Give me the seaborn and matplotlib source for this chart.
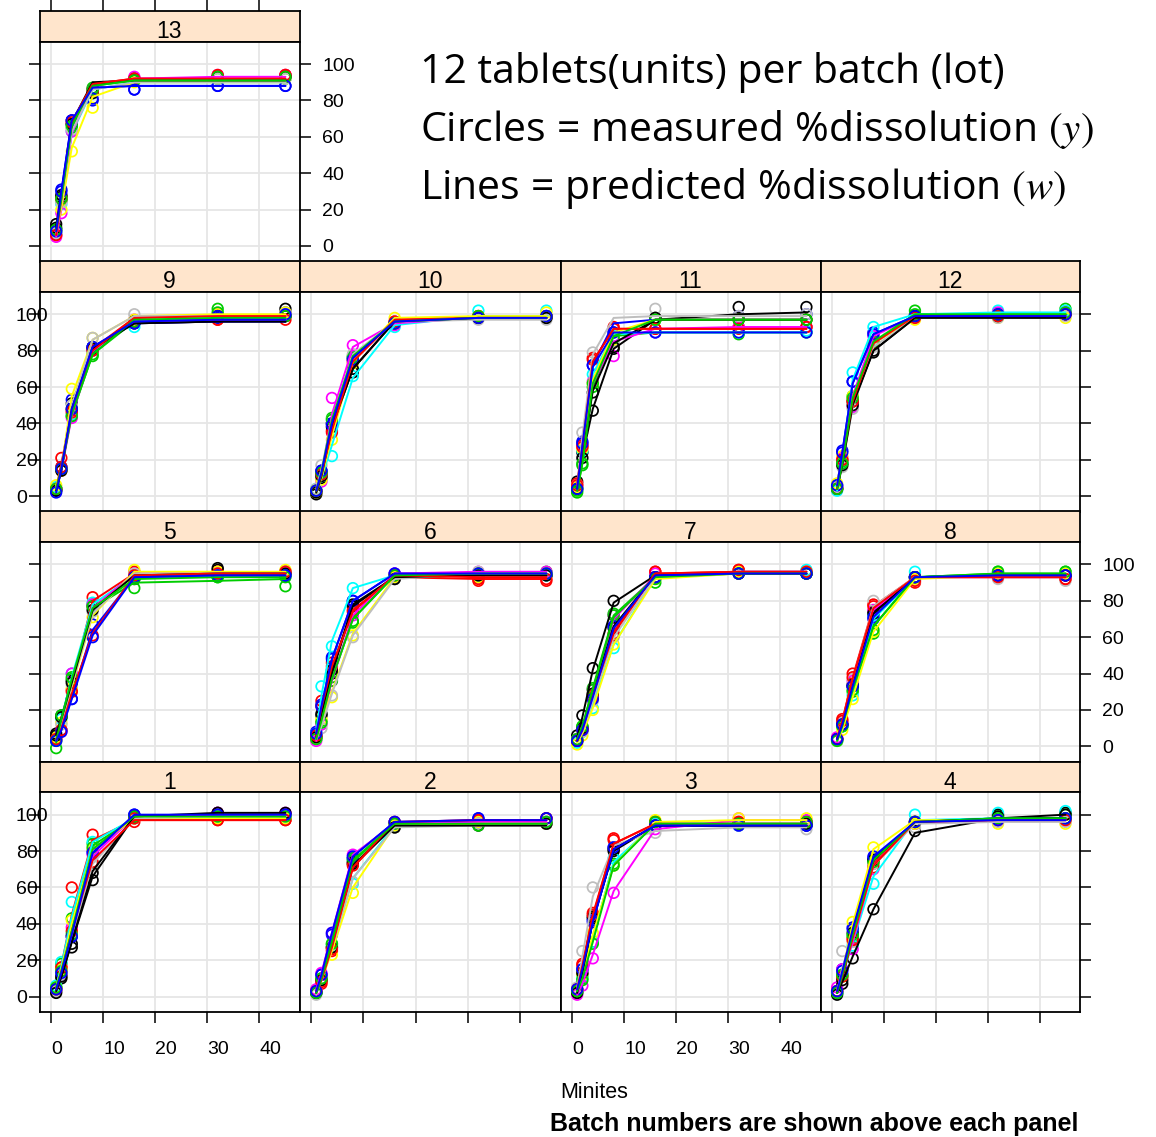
import matplotlib
matplotlib.use("Agg")
import matplotlib.pyplot as plt
import pandas as pd
import seaborn as sns

sns.set_style("white")
plt.rcParams["font.family"] = ["Liberation Sans", "DejaVu Sans"]
plt.rcParams["mathtext.fontset"] = "stix"
plt.rcParams["text.color"] = "black"
plt.rcParams["axes.labelcolor"] = "black"
plt.rcParams["xtick.color"] = "black"
plt.rcParams["ytick.color"] = "black"

# Sampling times (minutes)
minutes = [1, 2, 4, 8, 16, 32, 45]

# 12 tablets per batch; colours recycle the classic 8-colour palette
unit_ids = list(range(1, 13))
unit_palette = {1: "#000000", 2: "#FF0000", 3: "#00CD00", 4: "#0000FF",
                5: "#00FFFF", 6: "#FF00FF", 7: "#FFFF00", 8: "#BEBEBE",
                9: "#000000", 10: "#FF0000", 11: "#00CD00", 12: "#0000FF"}

# Measured % dissolution (y), one row per tablet, one column per time
measured_b1 = [[3, 10, 27, 64, 98, 101, 100], [5, 16, 60, 89, 96, 97, 97], [5, 18, 43, 84, 98, 98, 98],
               [4, 12, 33, 80, 100, 100, 100], [6, 19, 52, 85, 99, 99, 99], [4, 14, 38, 78, 99, 101, 101],
               [5, 15, 42, 81, 98, 98, 98], [3, 12, 35, 72, 98, 100, 99], [2, 11, 29, 68, 99, 101, 101],
               [4, 16, 36, 74, 98, 97, 97], [5, 14, 34, 82, 99, 99, 99], [4, 13, 33, 79, 100, 100, 100]]
measured_b2 = [[2, 9, 27, 74, 93, 95, 95], [3, 7, 25, 73, 95, 97, 98], [2, 10, 29, 75, 95, 95, 96],
               [3, 12, 34, 76, 96, 98, 98], [2, 9, 28, 62, 94, 96, 96], [4, 13, 35, 78, 95, 96, 96],
               [3, 9, 23, 57, 94, 96, 95], [1, 10, 28, 63, 93, 95, 95], [2, 9, 27, 73, 93, 94, 95],
               [3, 8, 26, 72, 96, 97, 98], [2, 10, 29, 76, 95, 94, 96], [3, 12, 35, 77, 96, 98, 98]]
measured_b3 = [[3, 12, 43, 80, 95, 95, 94], [4, 18, 46, 87, 96, 96, 96], [2, 10, 30, 73, 95, 95, 95],
               [4, 15, 42, 82, 94, 94, 94], [3, 11, 30, 76, 95, 94, 95], [1, 6, 21, 57, 92, 98, 97],
               [3, 12, 35, 72, 97, 98, 98], [5, 25, 60, 82, 90, 94, 92], [2, 13, 44, 81, 94, 95, 95],
               [4, 17, 45, 86, 96, 96, 96], [3, 9, 29, 72, 96, 95, 96], [4, 15, 41, 82, 94, 94, 94]]
measured_b4 = [[2, 7, 21, 48, 91, 100, 101], [3, 12, 32, 73, 96, 97, 98], [2, 11, 33, 75, 96, 99, 100],
               [3, 15, 38, 76, 95, 97, 98], [2, 12, 28, 62, 100, 101, 102], [5, 15, 26, 70, 95, 97, 97],
               [3, 12, 41, 82, 95, 95, 95], [2, 25, 30, 73, 93, 96, 96], [1, 9, 35, 75, 96, 99, 100],
               [3, 11, 31, 71, 96, 97, 97], [2, 12, 34, 74, 96, 98, 98], [3, 14, 37, 77, 96, 97, 98]]
measured_b5 = [[7, 17, 36, 77, 95, 97, 96], [5, 16, 31, 82, 96, 96, 96], [-1, 16, 37, 78, 87, 93, 88],
               [4, 9, 26, 67, 93, 94, 94], [5, 15, 40, 79, 94, 94, 95], [4, 8, 40, 78, 95, 95, 96],
               [5, 13, 32, 71, 97, 96, 97], [3, 12, 34, 74, 95, 95, 96], [6, 16, 35, 75, 92, 98, 95],
               [4, 9, 30, 61, 94, 95, 96], [3, 17, 38, 77, 92, 93, 93], [3, 8, 26, 60, 93, 94, 94]]
measured_b6 = [[6, 17, 40, 77, 92, 93, 94], [5, 25, 46, 75, 93, 91, 91], [4, 14, 38, 68, 93, 95, 96],
               [8, 23, 49, 80, 95, 95, 95], [7, 33, 55, 87, 94, 94, 94], [3, 12, 36, 72, 95, 96, 96],
               [5, 15, 27, 61, 93, 93, 95], [4, 10, 28, 60, 92, 96, 95], [5, 18, 42, 78, 92, 94, 94],
               [6, 22, 44, 74, 94, 92, 92], [4, 13, 36, 69, 94, 95, 95], [7, 22, 48, 80, 95, 95, 95]]
measured_b7 = [[6, 17, 43, 80, 93, 95, 95], [3, 9, 28, 62, 96, 97, 96], [4, 11, 32, 73, 90, 96, 95],
               [3, 9, 26, 66, 93, 95, 95], [2, 8, 21, 54, 93, 96, 97], [4, 10, 31, 72, 95, 96, 96],
               [1, 6, 20, 56, 92, 96, 96], [3, 8, 25, 60, 93, 95, 95], [3, 10, 29, 65, 93, 95, 95],
               [3, 9, 27, 61, 96, 97, 96], [4, 11, 31, 72, 92, 95, 95], [3, 9, 26, 66, 93, 95, 95]]
measured_b8 = [[4, 12, 34, 74, 93, 94, 94], [4, 15, 40, 78, 90, 94, 92], [3, 11, 30, 62, 93, 96, 96],
               [4, 12, 33, 70, 93, 94, 94], [3, 11, 28, 72, 96, 95, 95], [5, 13, 36, 75, 93, 94, 94],
               [3, 9, 26, 63, 92, 95, 95], [3, 13, 37, 80, 91, 92, 91], [4, 12, 33, 73, 93, 94, 94],
               [4, 14, 38, 77, 91, 93, 92], [3, 11, 31, 64, 93, 96, 96], [4, 12, 33, 71, 93, 94, 94]]
measured_b9 = [[4, 15, 51, 82, 96, 99, 103], [4, 21, 47, 81, 95, 97, 99], [4, 15, 44, 77, 95, 103, 100],
               [3, 16, 53, 82, 95, 98, 101], [5, 15, 45, 80, 93, 99, 99], [4, 14, 43, 80, 97, 100, 100],
               [6, 14, 59, 87, 97, 100, 101], [4, 15, 50, 87, 100, 99, 100], [3, 14, 48, 81, 96, 99, 99],
               [4, 16, 46, 80, 96, 97, 97], [4, 15, 44, 78, 96, 101, 99], [2, 15, 48, 82, 95, 99, 100]]
measured_b10 = [[1, 10, 40, 68, 95, 98, 98], [3, 12, 36, 75, 96, 99, 99], [3, 13, 43, 77, 95, 99, 99],
                [3, 14, 40, 76, 95, 98, 99], [4, 11, 22, 66, 93, 102, 102], [3, 8, 54, 83, 94, 99, 99],
                [2, 9, 31, 73, 98, 99, 101], [4, 17, 42, 78, 96, 97, 97], [2, 11, 38, 70, 95, 98, 98],
                [3, 12, 35, 74, 96, 99, 99], [3, 13, 42, 76, 95, 99, 99], [3, 14, 39, 75, 95, 98, 99]]
measured_b11 = [[8, 24, 47, 81, 98, 104, 104], [7, 28, 76, 93, 92, 93, 93], [2, 17, 60, 86, 97, 89, 90],
                [5, 30, 72, 90, 97, 99, 100], [4, 25, 67, 88, 90, 90, 91], [6, 27, 63, 77, 90, 93, 93],
                [5, 26, 62, 86, 97, 97, 97], [6, 35, 79, 85, 103, 99, 100], [4, 21, 57, 82, 98, 97, 97],
                [6, 27, 75, 92, 92, 92, 93], [3, 18, 62, 87, 97, 97, 97], [4, 29, 72, 90, 90, 90, 90]]
measured_b12 = [[5, 18, 52, 79, 99, 100, 100], [4, 20, 53, 84, 99, 99, 100], [4, 19, 55, 84, 102, 100, 103],
                [6, 25, 63, 90, 99, 100, 101], [3, 18, 68, 93, 99, 102, 102], [5, 21, 49, 88, 99, 101, 101],
                [7, 22, 55, 84, 97, 98, 98], [5, 16, 48, 82, 98, 98, 99], [4, 17, 50, 80, 99, 99, 100],
                [4, 20, 52, 84, 98, 99, 100], [4, 18, 54, 85, 100, 100, 101], [6, 24, 63, 89, 99, 100, 100]]
measured_b13 = [[12, 27, 67, 86, 92, 93, 93], [6, 25, 69, 86, 92, 93, 94], [9, 25, 65, 87, 92, 92, 92],
                [8, 31, 69, 80, 86, 88, 88], [7, 23, 63, 84, 91, 92, 92], [5, 18, 63, 86, 93, 94, 94],
                [8, 20, 52, 76, 90, 92, 92], [7, 24, 64, 85, 91, 92, 92], [10, 28, 67, 84, 91, 93, 93],
                [6, 26, 68, 85, 92, 94, 94], [9, 26, 66, 86, 91, 93, 93], [8, 30, 69, 81, 86, 88, 88]]

# Predicted % dissolution (w), same layout
predicted_b1 = [[3, 11, 30, 66, 99, 100, 100], [5, 17, 45, 86, 97, 97, 97], [5, 16, 40, 83, 98, 98, 98],
                [4, 13, 34, 79, 99, 100, 100], [5, 17, 44, 85, 98, 99, 99], [4, 14, 37, 77, 99, 100, 100],
                [5, 15, 40, 81, 98, 98, 98], [3, 12, 34, 73, 98, 99, 99], [3, 11, 30, 69, 99, 101, 101],
                [4, 14, 36, 75, 97, 97, 97], [5, 14, 36, 81, 99, 99, 99], [4, 13, 34, 79, 100, 100, 100]]
predicted_b2 = [[2, 10, 29, 72, 94, 95, 95], [3, 9, 27, 71, 95, 97, 97], [2, 10, 30, 74, 95, 95, 95],
                [3, 12, 34, 77, 96, 97, 97], [2, 9, 27, 65, 94, 95, 95], [4, 13, 35, 78, 95, 96, 96],
                [3, 9, 25, 60, 94, 95, 95], [1, 10, 27, 65, 93, 94, 94], [2, 10, 28, 72, 94, 94, 94],
                [3, 9, 27, 71, 96, 97, 97], [2, 10, 30, 75, 95, 95, 95], [3, 12, 35, 77, 96, 97, 97]]
predicted_b3 = [[3, 13, 42, 80, 94, 94, 94], [4, 17, 45, 84, 95, 95, 95], [2, 11, 32, 73, 95, 95, 95],
                [4, 15, 41, 81, 94, 94, 94], [3, 11, 32, 74, 95, 95, 95], [1, 7, 23, 58, 92, 97, 97],
                [3, 12, 34, 72, 96, 97, 97], [5, 22, 55, 83, 91, 93, 93], [2, 13, 42, 81, 94, 94, 94],
                [4, 17, 44, 84, 95, 95, 95], [3, 10, 30, 72, 95, 95, 95], [4, 15, 41, 81, 94, 94, 94]]
predicted_b4 = [[2, 8, 22, 48, 90, 98, 100], [3, 12, 33, 73, 96, 97, 97], [2, 12, 34, 75, 96, 98, 98],
                [3, 14, 37, 76, 96, 97, 97], [2, 11, 30, 66, 97, 98, 98], [4, 13, 30, 72, 96, 97, 97],
                [3, 13, 40, 81, 97, 97, 97], [2, 16, 32, 72, 95, 96, 96], [2, 10, 34, 75, 96, 98, 98],
                [3, 11, 32, 72, 96, 97, 97], [2, 12, 34, 75, 96, 98, 98], [3, 14, 37, 77, 96, 97, 97]]
predicted_b5 = [[6, 16, 36, 76, 94, 95, 95], [5, 15, 34, 80, 95, 95, 95], [2, 14, 35, 76, 90, 91, 92],
                [4, 9, 27, 64, 93, 94, 94], [5, 15, 38, 78, 94, 94, 94], [4, 10, 36, 76, 95, 95, 95],
                [5, 13, 33, 72, 96, 96, 96], [3, 12, 34, 73, 95, 95, 95], [6, 15, 35, 75, 94, 95, 95],
                [4, 10, 29, 62, 94, 95, 95], [3, 15, 37, 76, 92, 93, 93], [3, 9, 26, 61, 93, 94, 94]]
predicted_b6 = [[6, 18, 40, 77, 93, 94, 94], [5, 22, 44, 75, 93, 92, 92], [4, 15, 37, 70, 94, 95, 95],
                [7, 22, 48, 80, 95, 95, 95], [8, 28, 58, 87, 94, 94, 94], [3, 13, 36, 72, 95, 96, 96],
                [5, 14, 30, 62, 93, 94, 94], [4, 11, 29, 61, 92, 95, 95], [5, 18, 41, 78, 93, 94, 94],
                [6, 21, 44, 74, 94, 93, 93], [4, 14, 37, 70, 94, 95, 95], [7, 22, 48, 80, 95, 95, 95]]
predicted_b7 = [[5, 16, 42, 79, 94, 95, 95], [3, 9, 28, 63, 95, 96, 96], [4, 11, 32, 72, 93, 95, 95],
                [3, 9, 27, 65, 94, 95, 95], [2, 8, 23, 56, 93, 96, 96], [4, 10, 30, 70, 94, 96, 96],
                [2, 7, 21, 56, 92, 95, 95], [3, 8, 25, 60, 93, 95, 95], [3, 10, 29, 66, 94, 95, 95],
                [3, 9, 28, 62, 95, 96, 96], [4, 11, 31, 71, 93, 95, 95], [3, 9, 27, 65, 94, 95, 95]]
predicted_b8 = [[4, 12, 34, 74, 93, 94, 94], [4, 14, 38, 77, 93, 93, 93], [3, 11, 31, 66, 93, 95, 95],
                [4, 12, 33, 71, 93, 94, 94], [3, 11, 30, 70, 93, 94, 94], [5, 13, 36, 75, 93, 93, 93],
                [3, 9, 27, 63, 92, 94, 94], [3, 13, 36, 77, 93, 93, 93], [4, 12, 33, 73, 93, 94, 94],
                [4, 14, 37, 76, 93, 93, 93], [3, 11, 31, 66, 93, 95, 95], [4, 12, 33, 71, 93, 94, 94]]
predicted_b9 = [[4, 15, 50, 82, 95, 96, 96], [4, 18, 47, 81, 98, 99, 99], [4, 15, 45, 78, 96, 97, 97],
                [3, 16, 50, 82, 95, 96, 96], [5, 15, 46, 80, 96, 97, 97], [4, 14, 44, 80, 96, 97, 97],
                [6, 15, 55, 86, 99, 100, 100], [4, 15, 50, 86, 99, 99, 99], [3, 14, 48, 81, 95, 96, 96],
                [4, 16, 46, 80, 98, 99, 99], [4, 15, 45, 78, 97, 98, 98], [2, 15, 48, 82, 96, 97, 97]]
predicted_b10 = [[2, 11, 38, 70, 96, 98, 98], [3, 12, 36, 74, 97, 98, 98], [3, 13, 42, 77, 96, 98, 98],
                 [3, 13, 40, 76, 96, 98, 98], [3, 10, 28, 65, 94, 99, 99], [3, 12, 45, 82, 95, 98, 98],
                 [2, 10, 33, 74, 98, 99, 99], [4, 15, 42, 78, 96, 97, 97], [2, 11, 38, 70, 96, 98, 98],
                 [3, 12, 36, 74, 97, 98, 98], [3, 13, 42, 77, 96, 98, 98], [3, 13, 40, 76, 96, 98, 98]]
predicted_b11 = [[7, 22, 48, 81, 97, 100, 101], [7, 28, 74, 92, 92, 92, 92], [3, 18, 60, 88, 90, 90, 90],
                 [5, 29, 72, 95, 97, 97, 97], [4, 25, 67, 89, 90, 90, 90], [6, 26, 62, 85, 92, 93, 93],
                 [5, 26, 64, 90, 97, 97, 97], [6, 33, 78, 98, 99, 99, 99], [4, 22, 58, 84, 97, 97, 97],
                 [6, 27, 74, 92, 92, 92, 92], [3, 18, 62, 88, 97, 97, 97], [4, 28, 71, 90, 90, 90, 90]]
predicted_b12 = [[5, 18, 51, 80, 98, 98, 98], [4, 20, 52, 84, 99, 99, 99], [4, 19, 54, 84, 100, 100, 100],
                 [6, 24, 62, 89, 99, 99, 99], [3, 20, 64, 93, 100, 101, 101], [5, 21, 55, 88, 99, 99, 99],
                 [7, 22, 54, 84, 98, 98, 98], [5, 17, 49, 82, 98, 98, 98], [4, 17, 50, 80, 98, 98, 98],
                 [4, 20, 52, 84, 99, 99, 99], [4, 18, 54, 85, 100, 100, 100], [6, 24, 62, 89, 99, 99, 99]]
predicted_b13 = [[11, 28, 68, 90, 91, 91, 91], [6, 26, 68, 89, 92, 92, 92], [9, 26, 66, 88, 91, 91, 91],
                 [8, 30, 69, 87, 88, 88, 88], [7, 24, 62, 86, 90, 90, 90], [5, 20, 62, 88, 92, 93, 93],
                 [8, 21, 54, 82, 90, 90, 90], [7, 24, 63, 86, 90, 90, 90], [10, 28, 67, 89, 91, 91, 91],
                 [6, 26, 68, 89, 92, 92, 92], [9, 26, 66, 88, 91, 91, 91], [8, 30, 69, 87, 88, 88, 88]]

measured = {1: measured_b1, 2: measured_b2, 3: measured_b3, 4: measured_b4, 5: measured_b5,
            6: measured_b6, 7: measured_b7, 8: measured_b8, 9: measured_b9, 10: measured_b10,
            11: measured_b11, 12: measured_b12, 13: measured_b13}
predicted = {1: predicted_b1, 2: predicted_b2, 3: predicted_b3, 4: predicted_b4, 5: predicted_b5,
             6: predicted_b6, 7: predicted_b7, 8: predicted_b8, 9: predicted_b9, 10: predicted_b10,
             11: predicted_b11, 12: predicted_b12, 13: predicted_b13}

records = []
for batch in range(1, 14):
    for unit, (ym, yp) in enumerate(zip(measured[batch], predicted[batch]), start=1):
        for t, m, p in zip(minutes, ym, yp):
            records.append((batch, unit, t, m, p))
df = pd.DataFrame(records, columns=["batch", "unit", "minute", "measured", "predicted"])

# ---- page geometry (pixels) ----
W, H = 1156, 1137
fig = plt.figure(figsize=(W / 100, H / 100), dpi=100)
fig.patch.set_facecolor("white")


def box(x0, y0, x1, y1):
    return [x0 / W, 1 - y1 / H, (x1 - x0) / W, (y1 - y0) / H]


col_edges = [39.5, 299.5, 560.5, 820.5, 1079.5]
strip_h, panel_h, row_step, top0 = 30.5, 220.0, 250.2, 11.0
layout = {13: (0, 0),
          9: (1, 0), 10: (1, 1), 11: (1, 2), 12: (1, 3),
          5: (2, 0), 6: (2, 1), 7: (2, 2), 8: (2, 3),
          1: (3, 0), 2: (3, 1), 3: (3, 2), 4: (3, 3)}

XLIM = (-2.2, 47.7)
YLIM = (-8.55, 112.4)
xt = [0, 10, 20, 30, 40]
yt = [0, 20, 40, 60, 80, 100]
TICK_LEN = 8.0
TICK_W = 1.1
LABEL_FS = 14
EDGE_W = 1.3

for batch, (r, c) in layout.items():
    x0, x1 = col_edges[c], col_edges[c + 1]
    s_top = top0 + r * row_step
    p_top = s_top + strip_h
    p_bot = p_top + panel_h

    # strip with batch number
    sax = fig.add_axes(box(x0, s_top, x1, p_top))
    sax.set_facecolor("#FFE5CC")
    sax.set_xlim(*XLIM)
    sax.set_ylim(0, 1)
    sax.set_yticks([])
    for sp in sax.spines.values():
        sp.set_color("black")
        sp.set_linewidth(EDGE_W)
    sax.text(0.5, 0.11, str(batch), transform=sax.transAxes, ha="center", va="baseline",
             fontsize=16.5, color="black")
    if r == 0:
        sax.set_xticks(xt)
        sax.tick_params(axis="x", bottom=False, top=True, labelbottom=False, labeltop=False,
                        direction="out", length=TICK_LEN, width=TICK_W, color="black")
    else:
        sax.set_xticks([])

    # data panel
    ax = fig.add_axes(box(x0, p_top, x1, p_bot))
    sub = df[df["batch"] == batch]
    sns.lineplot(data=sub, x="minute", y="predicted", hue="unit", hue_order=unit_ids,
                 palette=unit_palette, estimator=None, sort=False, linewidth=1.4,
                 legend=False, ax=ax)
    sns.scatterplot(data=sub, x="minute", y="measured", hue="unit", hue_order=unit_ids,
                    palette=unit_palette, marker="o", s=58, linewidth=1.25,
                    legend=False, ax=ax)
    pts = ax.collections[-1]
    pts.set_edgecolor(pts.get_facecolor())
    pts.set_facecolor("none")

    ax.set_xlim(*XLIM)
    ax.set_ylim(*YLIM)
    ax.set_xticks(xt)
    ax.set_yticks(yt)
    ax.set_xlabel("")
    ax.set_ylabel("")
    ax.grid(True, color="#E6E6E6", linewidth=1.3)
    ax.set_axisbelow(True)
    for sp in ax.spines.values():
        sp.set_color("black")
        sp.set_linewidth(EDGE_W)

    left_ticks = c == 0
    right_ticks = (c == 3) or (batch == 13)
    left_labels = c == 0 and r in (1, 3)
    right_labels = (batch == 13) or (r == 2 and c == 3)
    bottom_ticks = r == 3
    bottom_labels = r == 3 and c in (0, 2)

    ax.tick_params(axis="both", direction="out", length=TICK_LEN, width=TICK_W,
                   color="black", labelcolor="black", labelsize=LABEL_FS)
    ax.tick_params(axis="x", bottom=bottom_ticks, top=False, labelbottom=bottom_labels,
                   labeltop=False, pad=12.5)
    ax.tick_params(axis="y", left=left_ticks, right=right_ticks, labelleft=left_labels,
                   labelright=right_labels)
    if left_labels:
        ax.tick_params(axis="y", pad=9.0)
        for lbl in ax.get_yticklabels():
            lbl.set_horizontalalignment("left")
    if right_labels:
        ax.tick_params(axis="y", pad=8.3)
    if bottom_labels:
        for lbl in ax.get_xticklabels():
            lbl.set_horizontalalignment("left")

# ---- annotations ----
cap_font = ["Open Sans", "DejaVu Sans"]
fig.text(420 / W, 1 - 83 / H, "12 tablets(units) per batch (lot)", fontsize=29.5,
         family=cap_font, va="baseline", ha="left")
fig.text(420 / W, 1 - 141 / H, "Circles = measured %dissolution $(y)$", fontsize=29.5,
         family=cap_font, va="baseline", ha="left")
fig.text(420 / W, 1 - 199 / H, "Lines = predicted %dissolution $(w)$", fontsize=29.5,
         family=cap_font, va="baseline", ha="left")

fig.text(560 / W, 1 - 1098 / H, "Minites", fontsize=15.5, va="baseline", ha="left")
fig.text(550 / W, 1 - 1131 / H, "Batch numbers are shown above each panel", fontsize=18,
         fontweight="bold", va="baseline", ha="left")

fig.savefig("out.png", dpi=100, facecolor="white")
